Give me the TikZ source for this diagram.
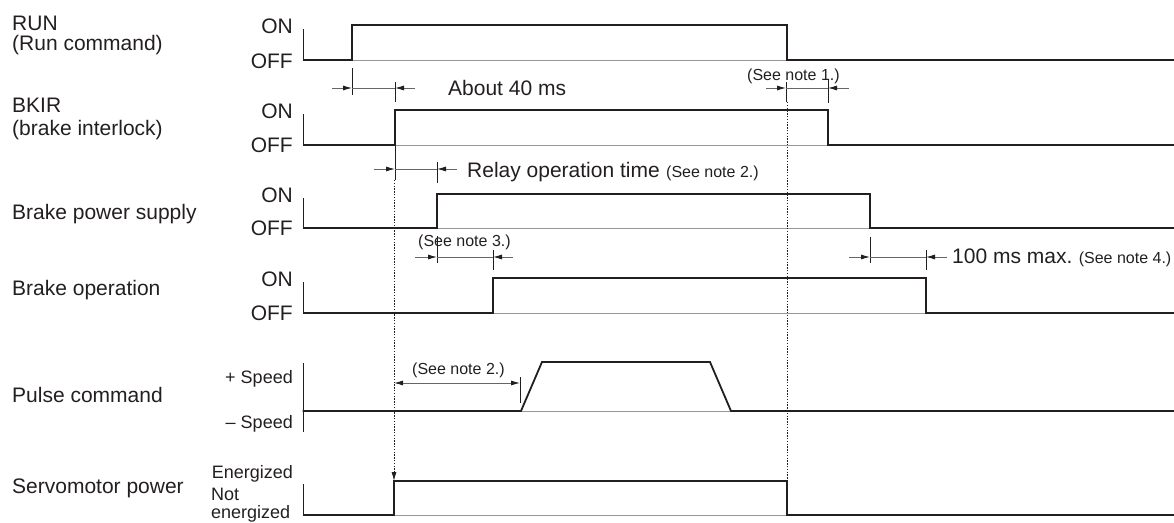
\documentclass[tikz,border=0pt]{standalone}
\usepackage{fontspec}
\setmainfont{Liberation Sans}
\usetikzlibrary{arrows.meta}
\definecolor{ink}{HTML}{231F20}
\newcommand\fsA{\fontsize{21}{24}\selectfont}
\newcommand\fsB{\fontsize{18}{21}\selectfont}
\newcommand\fsC{\fontsize{16}{19}\selectfont}
\tikzset{
  lbl/.style={inner sep=0pt, text=ink, font=\fsA},
  lvl/.style={inner sep=0pt, text=ink, font=\fsA, anchor=base east},
  lvls/.style={inner sep=0pt, text=ink, font=\fsB},
  note/.style={inner sep=0pt, text=ink, font=\fsC, anchor=base west},
  sig/.style={line width=1.8pt, draw=ink, line join=miter, line cap=rect},
  baseln/.style={line width=1pt, draw=black!40},
  axisln/.style={line width=0.9pt, draw=ink},
  dimln/.style={line width=0.9pt, draw=black!60},
  tickln/.style={line width=0.9pt, draw=ink},
  dotln/.style={line width=0.8pt, draw=ink, dash pattern=on 1.3pt off 1.5pt},
  tip/.style={-{Latex[length=9pt,width=5pt,color=ink]}},
  tips/.style={{Latex[length=9pt,width=5pt,color=ink]}-{Latex[length=9pt,width=5pt,color=ink]}},
}
\begin{document}
\begin{tikzpicture}[x=1pt,y=-1pt]
\useasboundingbox (0,0) rectangle (1174,522);
% ---------- left labels ----------
\node[lbl, anchor=base west] (run) at (12,30.5) {RUN};
\node[lbl, anchor=base west] (runc) at (12,50.5) {(Run command)};
\node[lbl, anchor=base west] (bkir) at (12,112) {BKIR};
\node[lbl, anchor=base west] (bkirc) at (12,135) {(brake interlock)};
\node[lbl, anchor=base west] (bps) at (12,219) {Brake power supply};
\node[lbl, anchor=base west] (bop) at (12,295) {Brake operation};
\node[lbl, anchor=base west] (pc) at (12,402) {Pulse command};
\node[lbl, anchor=base west] (smp) at (12,493) {Servomotor power};
% ---------- level labels ----------
\node[lvl] (on1) at (293,33) {ON};
\node[lvl] (off1) at (293,68) {OFF};
\node[lvl] (on2) at (293,118) {ON};
\node[lvl] (off2) at (293,152) {OFF};
\node[lvl] (on3) at (293,202) {ON};
\node[lvl] (off3) at (293,235) {OFF};
\node[lvl] (on4) at (293,286) {ON};
\node[lvl] (off4) at (293,320) {OFF};
\node[lvls, anchor=base east] (psp) at (293,383.5) {+ Speed};
\node[lvls, anchor=base east] (nsp) at (293,428) {\textendash{} Speed};
\node[lvls, anchor=base east] (en) at (293,478) {Energized};
\node[lvls, anchor=base west] (nen1) at (211,500) {Not};
\node[lvls, anchor=base west] (nen2) at (211,518) {energized};
% ---------- axes ----------
\draw[axisln] (303.5,29) -- (303.5,60);
\draw[axisln] (303.5,114) -- (303.5,145);
\draw[axisln] (303.5,198) -- (303.5,228);
\draw[axisln] (303.5,282) -- (303.5,313);
\draw[axisln] (303.5,363) -- (303.5,432);
\draw[axisln] (303.5,484) -- (303.5,515);
% ---------- baselines (grey) ----------
\draw[baseln] (352,60) -- (787,60);
\draw[baseln] (395,145) -- (828,145);
\draw[baseln] (437,228) -- (870,228);
\draw[baseln] (493,313) -- (926,313);
\draw[baseln] (521,411) -- (731,411);
\draw[baseln] (394,515) -- (787,515);
% ---------- signals ----------
\draw[sig] (303.5,60) -- (352,60) -- (352,25) -- (787,25) -- (787,60) -- (1174,60);
\draw[sig] (303.5,145) -- (395,145) -- (395,110) -- (828,110) -- (828,145) -- (1174,145);
\draw[sig] (303.5,228) -- (437,228) -- (437,194) -- (870,194) -- (870,228) -- (1174,228);
\draw[sig] (303.5,313) -- (493,313) -- (493,278) -- (926,278) -- (926,313) -- (1174,313);
\draw[sig] (303.5,411) -- (521,411) -- (542,362) -- (710,362) -- (731,411) -- (1174,411);
\draw[sig] (303.5,515) -- (394,515) -- (394,481) -- (787,481) -- (787,515) -- (1174,515);
% ---------- About 40 ms ----------
\draw[tickln] (352,68) -- (352,95);
\draw[tickln] (395,82) -- (395,102);
\coordinate (a40l) at (332,88);
\coordinate (a40r) at (415,88);
\draw[dimln, tip] (a40l) -- (352,88);
\draw[dimln] (352,88) -- (395,88);
\draw[dimln, tip] (a40r) -- (395,88);
\node[lbl, anchor=base west] (about) at (448,95.5) {About 40 ms};
% ---------- note 1 ----------
\draw[tickln] (786,82) -- (786,102);
\draw[tickln] (828,79) -- (828,103);
\draw[dimln, tip] (766,88) -- (786,88);
\draw[dimln] (786,88) -- (828,88);
\draw[dimln, tip] (849,88) -- (828,88);
\node[note] (n1) at (747,80) {(See note 1.)};
% ---------- relay operation time ----------
\draw[tickln] (395,145) -- (395,180);
\draw[tickln] (437,162) -- (437,183);
\draw[dimln, tip] (374,169) -- (395,169);
\draw[dimln] (395,169) -- (437,169);
\draw[dimln, tip] (457,169) -- (437,169);
\node[lbl, anchor=base west] (relay) at (467,177.5) {Relay operation time};
\node[note, anchor=base west] (n2a) at ([xshift=6pt]relay.base east) {(See note 2.)};
% ---------- note 3 ----------
\draw[tickln] (437,236) -- (437,263);
\draw[tickln] (493,250) -- (493,270);
\draw[dimln, tip] (415,257) -- (437,257);
\draw[dimln] (437,257) -- (493,257);
\draw[dimln, tip] (513,257) -- (493,257);
\node[note] (n3) at (418,246.5) {(See note 3.)};
% ---------- note 4 ----------
\draw[tickln] (870,237) -- (870,263);
\draw[tickln] (926,250) -- (926,270);
\draw[dimln, tip] (849,257) -- (870,257);
\draw[dimln] (870,257) -- (926,257);
\draw[dimln, tip] (947,257) -- (926,257);
\node[lbl, anchor=base west] (ms100) at (952,263.5) {100 ms max.};
\node[note, anchor=base west] (n4) at ([xshift=6pt]ms100.base east) {(See note 4.)};
% ---------- pulse note 2 ----------
\draw[tickln] (520,377) -- (520,403);
\draw[dimln, tips] (394,383) -- (520,383);
\node[note] (n2b) at (412,374) {(See note 2.)};
% ---------- dotted guide lines ----------
\draw[dotln] (787,102) -- (787,481);
\draw[dotln, tip] (394,180) -- (394,481);
\end{tikzpicture}
\end{document}
